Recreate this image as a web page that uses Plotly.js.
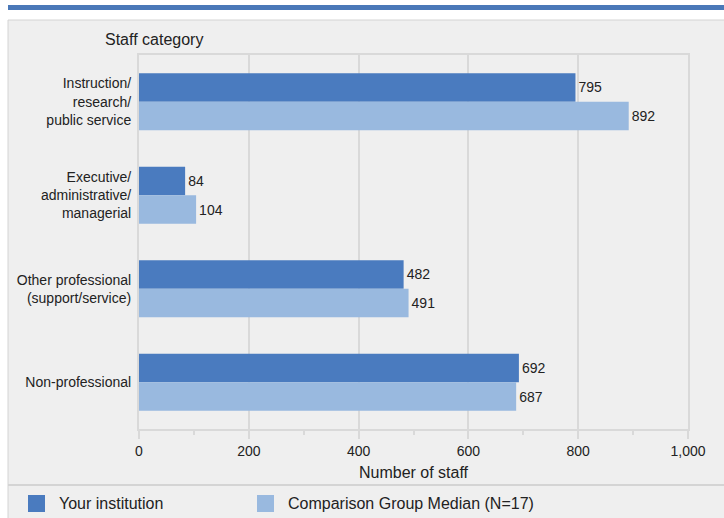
<!DOCTYPE html>
<html><head><meta charset="utf-8">
<script src="https://cdn.plot.ly/plotly-3.0.1.min.js"></script>
<style>html,body{margin:0;padding:0;background:#fff}#chart{width:724px;height:518px}</style>
</head><body><div id="chart"></div>
<script>
const categories = ["Instruction/<br>research/<br>public service","Executive/<br>administrative/<br>managerial","Other professional<br>(support/service)","Non-professional"];
const yourInstitution = [795, 84, 482, 692];
const comparisonMedian = [892, 104, 491, 687];
const seriesNames = ["Your institution", "Comparison Group Median (N=17)"];
const tickVals = [0, 200, 400, 600, 800, 1000];

const c1 = "#4a7bbf", c2 = "#99b9df";
const W = 724, H = 518, L = 139, R = 688, T = 55, B = 429;
const px = x => (x - L) / (R - L);
const py = y => (B - y) / (B - T);
const font = {family: "Liberation Sans, Arial, sans-serif", size: 14, color: "#222"};

const traces = [
  {type: "bar", orientation: "h", name: seriesNames[0], y: categories, x: yourInstitution,
   marker: {color: c1}, text: yourInstitution.map(String), textposition: "outside",
   textfont: {size: 14, color: "#222"}, cliponaxis: false, hoverinfo: "x+name"},
  {type: "bar", orientation: "h", name: seriesNames[1], y: categories, x: comparisonMedian,
   marker: {color: c2}, text: comparisonMedian.map(String), textposition: "outside",
   textfont: {size: 14, color: "#222"}, cliponaxis: false, hoverinfo: "x+name"}
];

const layout = {
  width: W, height: H,
  margin: {l: L, r: W - R, t: T, b: H - B, pad: 0},
  paper_bgcolor: "#ffffff", plot_bgcolor: "rgba(0,0,0,0)",
  font: font, showlegend: false,
  barmode: "group", bargap: 0.39, bargroupgap: 0,
  xaxis: {range: [0, 1000], tickvals: tickVals, tickformat: ",d",
    showgrid: true, gridcolor: "#d9d9d9", gridwidth: 2,
    showline: true, linecolor: "#d9d9d9", linewidth: 2, mirror: true,
    ticks: "outside", ticklen: 8, tickwidth: 2, tickcolor: "#d9d9d9",
    minor: {dtick: 100, ticks: "outside", ticklen: 4, tickwidth: 2, tickcolor: "#d9d9d9", showgrid: false},
    zeroline: false, tickfont: {size: 14, color: "#222"},
    title: {text: "Number of staff", font: {size: 16, color: "#222"}, standoff: 9}},
  yaxis: {autorange: "reversed", showgrid: false,
    showline: true, linecolor: "#d9d9d9", linewidth: 2, mirror: true,
    ticks: "", ticklabelstandoff: 3, tickfont: {size: 14, color: "#222"}},
  shapes: [
    {type: "rect", xref: "paper", yref: "paper", x0: px(8), x1: px(726), y0: py(5), y1: py(10),
     fillcolor: "#4a78b8", line: {width: 0}, layer: "below"},
    {type: "rect", xref: "paper", yref: "paper", x0: px(8), x1: px(730), y0: py(20), y1: py(530),
     fillcolor: "#efefef", line: {color: "#d4d4d4", width: 1}, layer: "below"},
    {type: "line", xref: "paper", yref: "paper", x0: px(8), x1: px(726), y0: py(485), y1: py(485),
     line: {color: "#d4d4d4", width: 2}, layer: "below"},
    {type: "rect", xref: "paper", yref: "paper", x0: px(28), x1: px(45), y0: py(495), y1: py(512),
     fillcolor: c1, line: {width: 0}},
    {type: "rect", xref: "paper", yref: "paper", x0: px(257), x1: px(274), y0: py(495), y1: py(512),
     fillcolor: c2, line: {width: 0}}
  ],
  annotations: [
    {xref: "paper", yref: "paper", x: px(103), y: py(39), xanchor: "left", yanchor: "middle",
     text: "Staff category", showarrow: false, font: {size: 16, color: "#222"}},
    {xref: "paper", yref: "paper", x: px(57), y: py(504), xanchor: "left", yanchor: "middle",
     text: seriesNames[0], showarrow: false, font: {size: 16, color: "#222"}},
    {xref: "paper", yref: "paper", x: px(286), y: py(504), xanchor: "left", yanchor: "middle",
     text: seriesNames[1], showarrow: false, font: {size: 16, color: "#222"}}
  ]
};

Plotly.newPlot("chart", traces, layout, {displayModeBar: false, staticPlot: true});
</script></body></html>
